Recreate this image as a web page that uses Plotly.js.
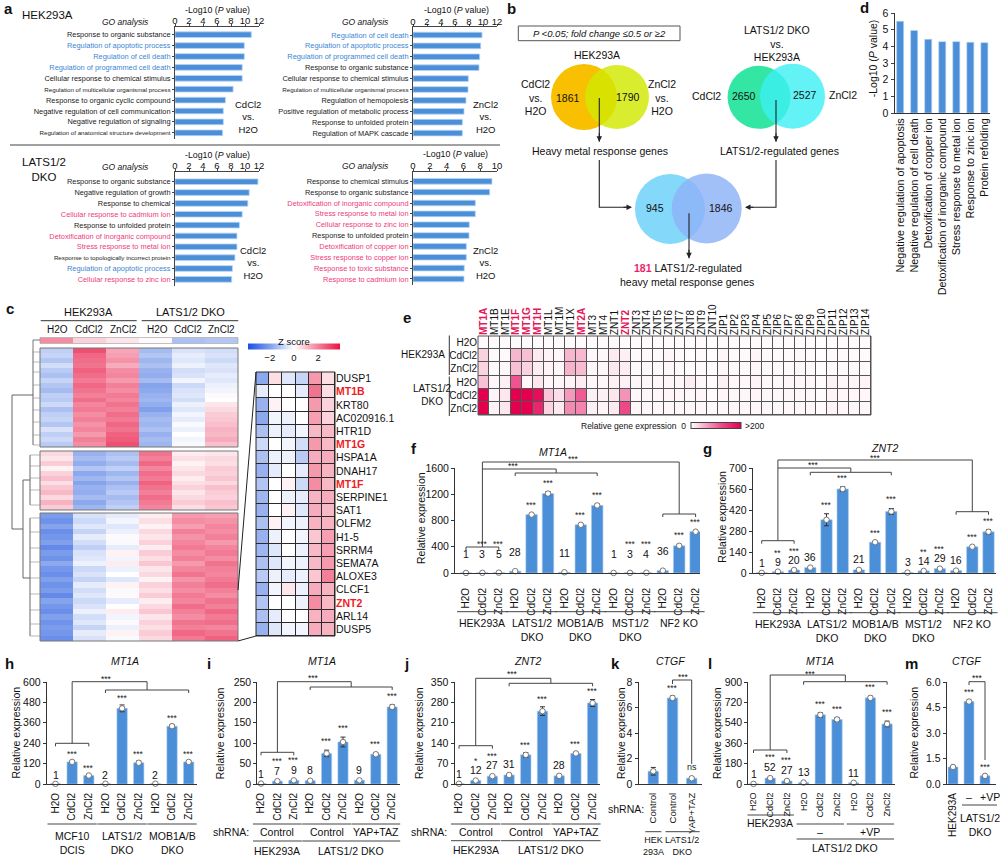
<!DOCTYPE html>
<html><head><meta charset="utf-8">
<script src="https://cdn.plot.ly/plotly-3.0.1.min.js"></script>
<style>html,body{margin:0;padding:0;background:#fff}#chart{width:1000px;height:858px}</style>
</head><body><div id="chart"></div>
<script>
// ================= DATA =================
// panel a : GO analysis
const aHekCdTerms=['Response to organic substance','Regulation of apoptotic process','Regulation of cell death','Regulation of programmed cell death','Cellular response to chemical stimulus','Regulation of multicellular organismal process','Response to organic cyclic compound','Negative regulation of cell communication','Negative regulation of signaling','Regulation of anatomical structure development'];
const aHekCdVals=[10.9,9.9,9.9,9.6,9.6,8.3,7.2,6.9,6.9,6.8];
const aHekCdClass=['other','apoptosis','apoptosis','apoptosis','other','other','other','other','other','other'];
const aHekZnTerms=['Regulation of cell death','Regulation of apoptotic process','Regulation of programmed cell death','Response to organic substance','Cellular response to chemical stimulus','Regulation of multicellular organismal process','Regulation of hemopoiesis','Positive regulation of metabolic process','Response to unfolded protein','Regulation of MAPK cascade'];
const aHekZnVals=[9.86,9.67,9.52,9.43,7.9,7.86,7.57,7.29,7.05,7.05];
const aHekZnClass=['apoptosis','apoptosis','apoptosis','other','other','other','other','other','other','other'];
const aDkoCdTerms=['Response to organic substance','Negative regulation of growth','Response to chemical','Cellular response to cadmium ion','Response to unfolded protein','Detoxification of inorganic compound','Stress response to metal ion','Response to topologically incorrect protein','Regulation of apoptotic process','Cellular response to zinc ion'];
const aDkoCdVals=[11.85,10.6,10.4,9.6,9.2,8.85,8.85,8.56,8.2,8.1];
const aDkoCdClass=['other','other','other','metal','other','metal','metal','other','apoptosis','metal'];
const aDkoZnTerms=['Response to chemical stimulus','Response to organic substance','Detoxification of inorganic compound','Stress response to metal ion','Cellular response to zinc ion','Response to unfolded protein','Detoxification of copper ion','Stress response to copper ion','Response to toxic substance','Response to cadmium ion'];
const aDkoZnVals=[9.4,9.13,7.42,7.42,6.7,6.67,6.35,6.35,6.1,6.07];
const aDkoZnClass=['other','other','metal','metal','metal','other','metal','metal','metal','metal'];

// panel b : Venn counts
const vennHekCd=1861, vennHekZn=1790, vennDkoCd=2650, vennDkoZn=2527, vennMetal=945, vennLats=1846, vennOverlap=181;

// panel d
const dTerms=['Negative regulation of apoptosis','Negative regulation of cell death','Detoxification of copper ion','Detoxification of inorganic compound','Stress response to metal ion','Response to zinc ion','Protein refolding'];
const dVals=[5.5,4.95,4.42,4.28,4.28,4.24,4.22];

// panel c : heatmap (z score) columns
const cCols=['H2O','CdCl2','ZnCl2','H2O','CdCl2','ZnCl2'];
const cTopBar=[[1.8,0.7,0.4,0.1,-1.3,-1.2]];
const cBlock1=[
[-1.0,2.8,1.4,-1.4,-0.6,-0.7],[-0.9,2.4,1.5,-1.2,-0.4,-0.6],[-1.2,2.3,1.7,-1.5,-0.5,-0.8],[-0.7,2.2,1.3,-1.3,-0.3,-0.5],
[-1.1,2.5,1.8,-1.6,-0.7,-0.6],[-1.3,2.3,1.9,-1.7,-0.6,-0.4],[-0.9,2.1,1.6,-1.4,-0.2,-0.5],[-1.2,2.4,2.0,-1.9,-0.8,-0.3],
[-1.4,2.2,1.8,-1.8,-0.6,-0.2],[-1.0,2.0,2.1,-1.6,-0.5,0.1],[-1.1,2.3,1.9,-1.5,-0.7,0.0],[-0.8,1.9,2.2,-1.7,-0.3,0.4],
[-1.3,2.1,2.0,-2.0,-0.5,0.6],[-1.0,1.8,2.3,-1.6,-0.2,0.8],[-0.9,2.0,2.1,-1.4,-0.4,0.9],[-1.2,1.7,2.4,-1.5,-0.1,1.0],
[-0.6,1.9,2.2,-1.3,-0.3,1.2],[-1.0,1.6,2.5,-1.6,0.0,1.1],[-0.8,2.0,2.6,-1.4,-0.2,1.3],[-1.1,1.8,2.8,-1.5,-0.1,1.0]];
const cBlock2=[
[0.6,-1.6,-1.3,2.2,0.3,0.4],[0.4,-1.4,-1.1,2.0,0.5,0.6],[0.8,-1.7,-1.4,2.4,0.2,0.5],[0.2,-1.2,-1.0,1.9,0.4,0.8],
[0.7,-1.8,-1.5,2.3,0.6,0.7],[1.0,-1.5,-1.2,2.1,0.3,0.9],[0.5,-1.9,-1.6,2.5,0.5,0.6],[0.9,-1.6,-1.3,2.2,0.7,1.0],
[1.1,-1.7,-1.1,2.0,0.4,0.8],[0.6,-1.4,-1.4,2.3,0.6,0.7],[1.2,-1.8,-1.2,2.1,0.8,1.0],[0.8,-1.5,-1.0,1.9,0.5,0.9]];
const cBlock3=[
[-2.1,-0.6,-0.4,0.3,1.6,1.5],[-2.3,-0.8,-0.2,0.5,1.8,1.7],[-1.9,-0.5,-0.5,0.2,1.5,1.9],[-2.4,-0.9,-0.3,0.6,2.0,1.8],
[-2.2,-0.4,0.1,0.4,1.7,2.0],[-2.0,-0.7,-0.1,0.7,1.9,1.6],[-2.5,-1.0,-0.4,0.3,2.1,1.9],[-2.1,-0.6,0.2,0.8,1.8,2.1],
[-2.3,-0.5,-0.2,0.5,2.0,1.8],[-1.8,-0.3,0.3,0.9,1.6,2.2],[-2.2,-0.8,-0.3,0.4,1.9,2.0],[-2.4,-0.6,0.0,0.6,2.2,1.9],
[-2.0,-0.9,-0.5,0.2,1.7,2.1],[-2.3,-0.4,0.2,0.7,2.0,2.3],[-2.1,-0.7,-0.1,0.5,1.8,2.0],[-2.5,-0.5,0.1,0.8,2.1,1.8],
[-1.9,-0.8,-0.4,0.3,1.9,2.2],[-2.2,-0.6,0.0,0.6,2.3,2.0],[-2.4,-0.3,0.3,0.9,2.0,2.4],[-2.0,-0.7,-0.2,0.4,1.8,2.1],
[-2.3,-0.5,0.1,0.7,2.2,2.3],[-2.1,-0.9,-0.3,0.5,2.0,1.9],[-2.2,-0.4,0.2,0.8,2.4,2.2],[-2.4,-0.6,-0.1,0.6,2.1,2.5]];
const cZoomGenes=['DUSP1','MT1B','KRT80','AC020916.1','HTR1D','MT1G','HSPA1A','DNAH17','MT1F','SERPINE1','SAT1','OLFM2','H1-5','SRRM4','SEMA7A','ALOXE3','CLCF1','ZNT2','ARL14','DUSP5'];
const cZoomHighlight=['MT1B','MT1G','MT1F','ZNT2'];
const cZoomZ=[
[-1.8,0.5,-0.5,-0.9,1.6,0.5],[-0.4,0.0,0.0,-0.4,2.2,0.5],[-1.6,0.2,0.0,0.0,1.6,0.7],[-1.8,-0.2,-0.3,0.0,1.5,0.7],
[-1.3,-0.3,-0.4,-0.2,1.1,1.1],[-0.8,0.0,-0.2,-0.7,1.6,1.1],[-1.3,-0.3,-0.3,-1.1,1.3,1.3],[-1.6,-0.4,0.0,-0.4,1.6,1.2],
[-1.2,0.0,0.2,-0.8,1.8,1.1],[-1.5,0.0,-0.3,-0.4,1.2,1.3],[-1.6,0.0,0.2,-0.5,1.3,1.1],[-1.3,0.2,-0.2,-0.3,1.2,1.2],
[-1.6,-0.3,0.0,-0.2,0.9,1.5],[-1.5,-0.5,0.0,-0.3,1.1,1.5],[-1.3,-0.5,-0.2,-0.3,1.1,1.6],[-1.1,-0.3,-0.4,-0.3,0.9,2.0],
[-1.6,-0.2,0.4,-0.3,1.3,1.2],[-1.2,0.0,0.0,-0.3,1.8,1.1],[-1.3,-0.4,0.0,0.0,1.2,1.3],[-1.6,-0.5,-0.2,-0.2,1.3,1.2]];

// panel e : relative gene expression
const eGenes=['MT1A','MT1B','MT1E','MT1F','MT1G','MT1H','MT1L','MT1M','MT1X','MT2A','MT3','MT4','ZNT1','ZNT2','ZNT3','ZNT4','ZNT5','ZNT6','ZNT7','ZNT8','ZNT9','ZNT10','ZIP1','ZIP2','ZIP3','ZIP4','ZIP5','ZIP6','ZIP7','ZIP8','ZIP9','ZIP10','ZIP11','ZIP12','ZIP13','ZIP14'];
const eHighlight=['MT1A','MT1F','MT1G','MT1H','MT2A','ZNT2'];
const eRows=['H2O','CdCl2','ZnCl2','H2O','CdCl2','ZnCl2'];
const eHekH2O=[4,3,3,4,3,3,3,3,3,4,3,3,4,3,3,3,3,3,3,2,3,1,4,3,3,3,3,3,3,3,3,1,3,3,3,3];
const eHekCd=[30,4,4,48,42,14,8,6,48,46,5,5,14,10,4,4,4,5,4,2,4,1,5,4,4,5,4,4,4,5,4,1,4,4,4,4];
const eHekZn=[28,3,5,42,30,12,8,6,50,44,5,5,15,12,4,4,4,5,4,2,4,1,5,4,4,5,4,4,4,5,4,2,4,4,4,4];
const eDkoH2O=[40,6,10,115,5,16,6,5,8,12,5,6,9,9,5,5,6,5,6,12,5,3,10,5,5,7,5,5,5,6,5,3,9,6,7,7];
const eDkoCd=[200,8,16,200,200,185,38,22,68,110,10,10,16,72,6,5,6,6,6,5,6,3,6,5,5,6,5,5,5,6,5,3,8,6,6,6];
const eDkoZn=[200,8,16,200,200,160,28,14,78,82,10,8,14,125,6,5,6,6,6,5,6,3,6,5,5,6,5,5,5,6,5,3,8,6,6,6];

// bar panels
const treat=['H2O','CdCl2','ZnCl2'];
const fGroups=['HEK293A','LATS1/2<br>DKO','MOB1A/B<br>DKO','MST1/2<br>DKO','NF2 KO'];
const fVals=[1,3,5,28,890,1210,11,735,1030,1,3,4,36,415,630];
const fErr=[0,0,0,6,15,30,3,15,20,0,0,0,5,20,15];
const fNums=['1','3','5','28','','','11','','','1','3','4','36','',''];
const fSig=['','***','***','','***','***','','***','***','','***','***','','***','***'];
const gVals=[1,9,20,36,355,560,21,205,410,3,14,29,16,175,275];
const gErr=[0,1,2,4,40,15,3,5,20,1,2,3,2,8,15];
const gNums=['1','9','20','36','','','21','','','3','14','29','16','',''];
const gSig=['','**','***','','***','***','','***','***','','**','***','','***','***'];
const hGroups=['MCF10<br>DCIS','LATS1/2<br>DKO','MOB1A/B<br>DKO'];
const hVals=[1,130,50,2,445,125,2,340,130];
const hErr=[0,5,5,0,20,10,0,10,8];
const hNums=['1','','','2','','','2','',''];
const hSig=['','***','***','','***','***','','***','***'];
const shGroups=['Control','Control','YAP+TAZ'];
const iVals=[1,7,9,8,75,103,9,73,189];
const iErr=[0,1,1,1,8,12,1,3,5];
const iNums=['1','7','9','8','','','9','',''];
const iSig=['','***','***','','***','***','','***','***'];
const jVals=[1,12,27,31,100,250,28,105,278];
const jErr=[0,3,3,3,8,15,3,4,12];
const jNums=['1','12','27','31','','','28','',''];
const jSig=['','*','***','','***','***','','***','***'];
const kTicks=['Control','Control','YAP+TAZ'];
const kVals=[1,6.75,0.45];
const kErr=[0.3,0.15,0.1];
const kSig=['','***','ns'];
const lVals=[1,52,27,13,610,570,11,760,530];
const lErr=[0,6,4,2,20,15,2,15,25];
const lNums=['1','52','27','13','','','11','',''];
const lSig=['','***','***','','***','***','','***','***'];
const mTicks=['HEK293A','',''];
const mVals=[1.0,4.85,0.48];
const mErr=[0.03,0.08,0.05];
const mSig=['','***','***'];

// ================= DRAWING =================
const FONT='Arial, "Liberation Sans", Helvetica, sans-serif';
const W=1000,H=858;
const X=p=>p/W, Y=p=>1-p/H;
const BLUE='#4a8fd8';
const layout={width:W,height:H,margin:{l:0,r:0,t:0,b:0,pad:0},paper_bgcolor:'#fff',plot_bgcolor:'rgba(0,0,0,0)',showlegend:false,
  font:{family:FONT,size:10,color:'#111'},annotations:[],shapes:[]};
const traces=[];
const ann=layout.annotations, shp=layout.shapes;
function T(x,y,text,size,o){o=o||{};const c=o.color||'#111';const r=Object.assign({},o);delete r.color;
  ann.push(Object.assign({xref:'paper',yref:'paper',x:X(x),y:Y(y),text:text,showarrow:false,xanchor:'center',yanchor:'middle',font:{family:FONT,size:size||10,color:c}},r));}
function L(x0,y0,x1,y1,c,w){shp.push({type:'line',xref:'paper',yref:'paper',x0:X(x0),y0:Y(y0),x1:X(x1),y1:Y(y1),line:{color:c||'#333',width:w||1}});}
function PL(pts,c,w){shp.push({type:'path',xref:'paper',yref:'paper',path:'M'+pts.map(p=>X(p[0])+','+Y(p[1])).join('L'),line:{color:c||'#333',width:w||1}});}
function RECT(x0,y0,x1,y1,fill,lc,lw,layer){shp.push({type:'rect',xref:'paper',yref:'paper',x0:X(x0),y0:Y(y1),x1:X(x1),y1:Y(y0),fillcolor:fill||'rgba(0,0,0,0)',line:{color:lc||'rgba(0,0,0,0)',width:lw||0},layer:layer||'above'});}
function CIRC(cx,cy,r,fill,op){shp.push({type:'circle',xref:'paper',yref:'paper',x0:X(cx-r),x1:X(cx+r),y0:Y(cy+r),y1:Y(cy-r),fillcolor:fill,opacity:op,line:{width:0},layer:'below'});}
function ARROW(hx,hy,dx,dy){ann.push({xref:'paper',yref:'paper',x:X(hx),y:Y(hy),ax:dx,ay:dy,text:'',showarrow:true,arrowhead:2,arrowsize:1,arrowwidth:1.1,arrowcolor:'#222'});}
const LET=(x,y,t)=>T(x,y,'<b>'+t+'</b>',15,{xanchor:'left'});

// ---------- panel a ----------
const clsColor={other:'#1a1a1a',apoptosis:'#3a86d6',metal:'#ee3a7c'};
function goPanel(n,terms,vals,cls,xl,xr,yFirst,step,padTop,xmax){
  const tt=terms.map((t,i)=>'<span style="color:'+clsColor[cls[i]]+(t.length>42?';font-size:6.2px':'')+'">'+t+'</span>');
  const m=terms.length;
  const yTop=yFirst-padTop*step, yBot=yFirst+(m-1+0.6)*step;
  layout['xaxis'+n]={domain:[X(xl),X(xr)],range:[0,xmax],dtick:2,side:'top',anchor:'y'+n,showline:true,linecolor:'#444',ticks:'outside',ticklen:2,tickcolor:'#444',ticklabelstandoff:-4,tickfont:{size:9.5},showgrid:false,zeroline:false,fixedrange:true};
  layout['yaxis'+n]={domain:[Y(yBot),Y(yTop)],range:[m-1+0.6,-padTop],anchor:'x'+n,showline:true,linecolor:'#444',ticks:'outside',ticklen:2,tickcolor:'#444',tickvals:terms.map((_,i)=>i),ticktext:tt,tickfont:{size:7.4},showgrid:false,zeroline:false,fixedrange:true};
  traces.push({type:'bar',orientation:'h',x:vals,y:terms.map((_,i)=>i),xaxis:'x'+n,yaxis:'y'+n,width:0.52,marker:{color:BLUE,line:{color:'#b8d4f2',width:0.8}},hoverinfo:'skip'});
}
goPanel(1,aHekCdTerms,aHekCdVals,aHekCdClass,175,259,34.7,10.9,0.7,12);
goPanel(2,aHekZnTerms,aHekZnVals,aHekZnClass,413,497,35,10.9,0.7,12);
goPanel(3,aDkoCdTerms,aDkoCdVals,aDkoCdClass,175,259,181.7,10.85,0.9,12);
goPanel(4,aDkoZnTerms,aDkoZnVals,aDkoZnClass,413,497,181.3,10.85,0.9,10);
LET(2,8,'a');
T(20,15,'HEK293A',11.5,{xanchor:'left'});
T(125,22,'<i>GO analysis</i>',8.5); T(365,22,'<i>GO analysis</i>',8.5);
T(217,10,'-Log10 (<i>P</i> value)',8.8); T(456,10,'-Log10 (<i>P</i> value)',8.8);
T(248,117,'CdCl2<br>vs.<br>H2O',9.5); T(485,117,'ZnCl2<br>vs.<br>H2O',9.5);
L(10,145,500,145,'#444',1.2);
T(20,169,'LATS1/2<br>DKO',11.5,{xanchor:'left'});
T(125,167,'<i>GO analysis</i>',8.5); T(365,166,'<i>GO analysis</i>',8.5);
T(217,155,'-Log10 (<i>P</i> value)',8.8); T(455,154,'-Log10 (<i>P</i> value)',8.8);
T(253,263,'CdCl2<br>vs.<br>H2O',9.5); T(485,263,'ZnCl2<br>vs.<br>H2O',9.5);

// ---------- panel b ----------
LET(505,8,'b');
RECT(518.3,26,680,40.7,'#fff','#555',1);
T(599,33.5,'<i>P &lt;0.05; fold change ≤0.5 or ≥2</i>',9.5);
T(597,55,'HEK293A',10.5);
CIRC(584,97,33,'#f8c000',1); CIRC(617,97,32,'#d2e800',0.82);
T(535,97,'CdCl2<br>vs.<br>H2O',10.5); T(662,97,'ZnCl2<br>vs.<br>H2O',10.5);
T(568.3,98,String(vennHekCd),10.5); T(628.3,97,String(vennHekZn),10.5);
T(776.7,43,'LATS1/2 DKO<br>vs.<br>HEK293A',10.5);
CIRC(759,97.3,31.5,'#34e6a4',1); CIRC(792.5,96.2,32.5,'#3cf0f4',0.8);
T(706.7,95.7,'CdCl2',10.5); T(843.3,94.7,'ZnCl2',10.5);
T(744.3,96,String(vennDkoCd),10.5); T(805,95,String(vennDkoZn),10.5);
L(599.3,98,599.3,141.7,'#222',1.1); ARROW(599.3,141.7,0,-10);
L(776,100,776,141.7,'#222',1.1); ARROW(776,141.7,0,-10);
T(600,151.3,'Heavy metal response genes',10.5); T(779,151,'LATS1/2-regulated genes',10.5);
CIRC(670,209,35,'#84d8fa',1); CIRC(706.7,208.5,35,'#8eb2f6',0.82);
T(655,208.3,String(vennMetal),10.5); T(721,207.7,String(vennLats),10.5);
PL([[599.3,160],[599.3,207.3],[630,207.3]],'#222',1.1); ARROW(632,207.3,-10,0);
PL([[776,160],[776,207.3],[747,207.3]],'#222',1.1); ARROW(745,207.3,10,0);
L(689,213.3,689,258.3,'#222',1.1); ARROW(689,258.3,0,-10);
T(688.3,268.3,'<b><span style="color:#ee1f6a">'+vennOverlap+'</span></b> LATS1/2-regulated',10.5);
T(687,281.7,'heavy metal response genes',10.5);

// ---------- panel d ----------
LET(858,7,'d');
layout.xaxis5={domain:[X(894.5),X(990)],range:[-0.4,6.4],anchor:'y5',showline:true,linecolor:'#333',ticks:'',tickvals:dTerms.map((_,i)=>i),ticktext:dTerms,tickangle:-90,tickfont:{size:10.8},showgrid:false,zeroline:false,fixedrange:true};
layout.yaxis5={domain:[Y(113),Y(13)],range:[0,6],dtick:1,anchor:'x5',showline:true,linecolor:'#333',ticks:'outside',ticklen:3,tickfont:{size:10.5},showgrid:false,zeroline:false,fixedrange:true};
traces.push({type:'bar',x:dTerms.map((_,i)=>i),y:dVals,xaxis:'x5',yaxis:'y5',width:0.5,marker:{color:BLUE,line:{color:'#b8d4f2',width:0.6}},hoverinfo:'skip'});
T(873.3,58,'-Log10 (<i>P</i> value)',10.5,{textangle:-90});

// ---------- panel c ----------
const zScale=[[0,'#1b4fe6'],[0.25,'#86a4ec'],[0.5,'#ffffff'],[0.75,'#f3869e'],[1,'#e8143f']];
layout.coloraxis={cmin:-3.8,cmax:3.8,colorscale:zScale,colorbar:{orientation:'h',x:X(294),xanchor:'center',y:Y(351.5),yanchor:'middle',len:92,lenmode:'pixels',thickness:6,thicknessmode:'pixels',tickvals:[-2,0,2],ticks:'',tickfont:{size:9.5,family:FONT},outlinewidth:0,xpad:0,ypad:0}};
function cHeat(n,z,xl,xr,yt,yb,gap){
  layout['xaxis'+n]={domain:[X(xl),X(xr)],range:[-0.5,z[0].length-0.5],anchor:'y'+n,visible:false,fixedrange:true};
  layout['yaxis'+n]={domain:[Y(yb),Y(yt)],range:[z.length-0.5,-0.5],anchor:'x'+n,visible:false,fixedrange:true};
  traces.push({type:'heatmap',z:z,xaxis:'x'+n,yaxis:'y'+n,coloraxis:'coloraxis',xgap:gap||0,ygap:gap||0,hoverinfo:'skip'});
}
cHeat(6,cTopBar,40,238,337.5,343.5);
cHeat(7,cBlock1,40,238,348,447);
cHeat(8,cBlock2,40,238,451,510);
cHeat(9,cBlock3,40,238,513,641);
RECT(40,337.5,238,343.5,null,'#999',0.6);
RECT(40,348,238,447,null,'#777',1); RECT(40,451,238,510,null,'#777',1); RECT(40,513,238,641,null,'#777',1);
// zoom heatmap
RECT(256,372,335,636,'#2a2a2a',null,0,'below');
layout.xaxis10={domain:[X(256),X(335)],range:[-0.5,5.5],anchor:'y10',visible:false,fixedrange:true};
layout.yaxis10={domain:[Y(636),Y(372)],range:[cZoomGenes.length-0.5,-0.5],anchor:'x10',side:'right',showline:false,ticks:'',tickvals:cZoomGenes.map((_,i)=>i),
  ticktext:cZoomGenes.map(g=>cZoomHighlight.includes(g)?'<b><span style="color:#ee1c25">'+g+'</span></b>':g),tickfont:{size:10.5},showgrid:false,zeroline:false,fixedrange:true};
traces.push({type:'heatmap',z:cZoomZ,xaxis:'x10',yaxis:'y10',coloraxis:'coloraxis',xgap:1,ygap:1,hoverinfo:'skip'});
RECT(256,372,335,636,null,'#2a2a2a',1);
LET(4,308,'c');
T(88,312,'HEK293A',11); L(40.7,320.7,136.7,320.7,'#333',1);
T(190,312,'LATS1/2 DKO',11); L(141.7,320.7,238.3,320.7,'#333',1);
const cColX=[57.3,89.3,123.3,157.7,188.3,221.7];
cCols.forEach((c,i)=>T(cColX[i],329.3,c,10));
T(294,342,'Z score',9.5);
L(238,590,256,372,'#222',1); L(238,641,256,636,'#222',1);
// dendrogram
const dg='#555';
L(12,395,12,529,dg,0.9); L(12,395,33,395,dg,0.9); L(12,529,23,529,dg,0.9);
L(23,480,23,578,dg,0.9); L(23,480,30,480,dg,0.9); L(23,578,30,578,dg,0.9);
L(33,350,33,445,dg,0.9); L(30,455,30,505,dg,0.9); L(30,518,30,636,dg,0.9);
[352,362,372,385,398,410,422,435,445].forEach(y=>L(33,y,40,y,'#888',0.6));
[455,466,478,490,505].forEach(y=>L(30,y,40,y,'#888',0.6));
[518,532,548,562,578,594,610,624,636].forEach(y=>L(30,y,40,y,'#888',0.6));
L(33,340,40,340,dg,0.8); L(33,340,33,350,dg,0.8);

// ---------- panel e ----------
const eScale=[[0,'#ffffff'],[0.25,'#f7b3cc'],[0.6,'#ee4d8c'],[1,'#e4004f']];
layout.coloraxis2={cmin:0,cmax:200,colorscale:eScale,colorbar:{orientation:'h',x:X(716),xanchor:'center',y:Y(426),yanchor:'middle',len:50,lenmode:'pixels',thickness:6,thicknessmode:'pixels',showticklabels:false,ticks:'',outlinewidth:1,outlinecolor:'#444',xpad:0,ypad:0}};
RECT(478,336,871,415,'#555',null,0,'below');
layout.xaxis11={domain:[X(478),X(871)],range:[-0.5,eGenes.length-0.5],anchor:'y11',side:'top',showline:false,ticks:'',tickangle:-90,tickvals:eGenes.map((_,i)=>i),
  ticktext:eGenes.map(g=>eHighlight.includes(g)?'<b><span style="color:#e3175a">'+g+'</span></b>':g),tickfont:{size:10},showgrid:false,zeroline:false,fixedrange:true};
layout.yaxis11={domain:[Y(415),Y(336)],range:[5.5,-0.5],anchor:'x11',showline:false,ticks:'',tickvals:[0,1,2,3,4,5],ticktext:eRows,tickfont:{size:10},showgrid:false,zeroline:false,fixedrange:true};
traces.push({type:'heatmap',z:[eHekH2O,eHekCd,eHekZn,eDkoH2O,eDkoCd,eDkoZn],xaxis:'x11',yaxis:'y11',coloraxis:'coloraxis2',xgap:1,ygap:1,hoverinfo:'skip'});
RECT(478,336,871,415,null,'#555',1);
LET(401,317,'e');
T(447,355,'HEK293A',10,{xanchor:'right'});
T(432,394.5,'LATS1/2<br>DKO',10);
L(449.3,335.5,449.3,375,'#333',1); L(449.3,376.5,449.3,416,'#333',1);
T(688,426,'Relative gene expression  0',8.5,{xanchor:'right'});
T(743,426,'&gt;200',8.5,{xanchor:'left'});

// ---------- bar panels ----------
function barPanel(n,cfg){
  const k=cfg.vals.map((_,i)=>i);
  const r0=-(cfg.first-cfg.left)/cfg.step, r1=(cfg.right-cfg.first)/cfg.step;
  layout['xaxis'+n]={domain:[X(cfg.left),X(cfg.right)],range:[r0,r1],anchor:'y'+n,showline:true,linecolor:'#333',ticks:'outside',ticklen:cfg.tl||4,tickcolor:'rgba(0,0,0,0)',tickvals:k,ticktext:cfg.ticks,tickangle:-90,tickfont:{size:cfg.tfs||10},showgrid:false,zeroline:false,fixedrange:true};
  layout['yaxis'+n]={domain:[Y(cfg.y0),Y(cfg.ytop)],range:[0,cfg.ymax],dtick:cfg.dtick,tickformat:cfg.fmt||'',anchor:'x'+n,showline:true,linecolor:'#333',ticks:'outside',ticklen:3,tickcolor:'#333',tickfont:{size:10.5},showgrid:false,zeroline:false,fixedrange:true};
  traces.push({type:'bar',x:k,y:cfg.vals,xaxis:'x'+n,yaxis:'y'+n,width:cfg.width,marker:{color:BLUE,line:{color:'#a6c8ef',width:0.6}},hoverinfo:'skip'});
  traces.push({type:'scatter',mode:'markers',x:k,y:cfg.vals,xaxis:'x'+n,yaxis:'y'+n,cliponaxis:false,marker:{size:5.5,color:'#fff',line:{color:'#777',width:1}},
    error_y:{type:'data',array:cfg.err,color:'#333',thickness:1,width:2.5},hoverinfo:'skip'});
  k.forEach(i=>{
    const top=cfg.vals[i]+cfg.err[i];
    const hasNum=cfg.nums&&cfg.nums[i];
    if(hasNum) ann.push({xref:'x'+n,yref:'y'+n,x:i,y:top,yshift:cfg.ns,text:cfg.nums[i],showarrow:false,yanchor:'middle',font:{family:FONT,size:10.5,color:'#111'}});
    const s=cfg.sig[i];
    if(s){const sh=hasNum?cfg.ns+cfg.ss2:cfg.ss; ann.push({xref:'x'+n,yref:'y'+n,x:i,y:top,yshift:(s==='ns'?sh+2:sh),text:s,showarrow:false,yanchor:'middle',font:{family:FONT,size:s==='ns'?9:8.5,color:'#222'}});}
  });
  return i=>cfg.first+i*cfg.step;
}
function grpBracket(px,a,b,y,t){PL([[px(a),y+(t||3)],[px(a),y],[px(b),y],[px(b),y+(t||3)]],'#444',1);}
const tr3=g=>[].concat(...Array(g).fill(treat));

// f
LET(409,448,'f'); T(553,452,'<i>MT1A</i>',10.5);
const pf=barPanel(12,{vals:fVals,err:fErr,nums:fNums,sig:fSig,ticks:tr3(5),left:455,first:466,step:16.4,right:700,y0:573,ytop:468,ymax:1600,dtick:400,width:0.7,tl:10,ns:19,ss:9,ss2:10});
T(421,518,'Relative expression',10.5,{textangle:-90});
fGroups.forEach((g,i)=>{L(pf(3*i)-9,611.7,pf(3*i+2)+9,611.7,'#444',1);T(pf(3*i+1),615,g,10.5,{yanchor:'top'});});
grpBracket(pf,0,2,547); L(pf(1),547,pf(1),462,'#444'); L(pf(1),462,pf(13),462,'#444');
grpBracket(pf,12,14,514); L(pf(13),514,pf(13),462,'#444');
{const mid=(pf(3)+pf(8))/2; L(pf(1),469,mid,469,'#444'); grpBracket(pf,3,8,473); L(mid,473,mid,469,'#444');}
T(513,466,'***',8.5); T(573,459,'***',8.5);

// g
LET(701,448,'g'); T(884,448,'<i>ZNT2</i>',10.5);
const pg=barPanel(13,{vals:gVals,err:gErr,nums:gNums,sig:gSig,ticks:tr3(5),left:752.7,first:761.7,step:16.2,right:996,y0:573,ytop:468,ymax:700,dtick:140,width:0.7,tl:10,ns:10,ss:9,ss2:9});
T(721.7,517,'Relative expression',10.5,{textangle:-90});
fGroups.forEach((g,i)=>{L(pg(3*i)-9,612.7,pg(3*i+2)+9,612.7,'#444',1);T(pg(3*i+1),616,g,10.5,{yanchor:'top'});});
grpBracket(pg,0,2,540.7); L(pg(1),540.7,pg(1),460,'#444'); L(pg(1),460,pg(13),460,'#444');
grpBracket(pg,12,14,511.7); L(pg(13),511.7,pg(13),460,'#444');
{const mid=(pg(3)+pg(8))/2; L(pg(1),468,mid,468,'#444'); grpBracket(pg,3,8,472.3); L(mid,472.3,mid,468,'#444');}
T(813,465,'***',8.5); T(875,457.5,'***',8.5);

// h
LET(3,663,'h'); T(125,661,'<i>MT1A</i>',10.5);
const ph=barPanel(14,{vals:hVals,err:hErr,nums:hNums,sig:hSig,ticks:tr3(3),left:46.7,first:55.5,step:16.65,right:197,y0:784,ytop:682,ymax:600,dtick:120,width:0.62,tl:4,ns:9,ss:7,ss2:10});
T(15.5,733,'Relative expression',10.5,{textangle:-90});
hGroups.forEach((g,i)=>{L(ph(3*i)-8,824,ph(3*i+2)+8,824,'#444',1);T(ph(3*i+1),828,g,10.5,{yanchor:'top'});});
grpBracket(ph,0,2,743.3); L(ph(1),743.3,ph(1),681.7,'#444');
{const mid=(ph(3)+ph(8))/2; L(ph(1),681.7,mid,681.7,'#444'); grpBracket(ph,3,8,690); L(mid,690,mid,681.7,'#444');}
T(106.7,679,'***',8.5);

// i
LET(205,663,'i'); T(322,661,'<i>MT1A</i>',10.5);
const pi=barPanel(15,{vals:iVals,err:iErr,nums:iNums,sig:iSig,ticks:tr3(3),left:257.3,first:261,step:16.4,right:400,y0:784,ytop:682,ymax:250,dtick:50,width:0.62,tl:4,ns:10,ss:9,ss2:10});
T(220.3,733,'Relative expression',10.5,{textangle:-90});
shGroups.forEach((g,i)=>{L(pi(3*i)-8,824,pi(3*i+2)+8,824,'#444',1);T(pi(3*i+1),832.3,g,10.5);});
T(251,832.3,'shRNA:',10.5,{xanchor:'right'});
L(pi(0)-8,841,pi(2)+8,841,'#444',1); L(pi(3)-8,841,pi(8)+8,841,'#444',1);
T(pi(1),851,'HEK293A',10.5); T((pi(3)+pi(8))/2,851,'LATS1/2 DKO',10.5);
grpBracket(pi,0,2,752.3); L(pi(1),752.3,pi(1),681.7,'#444');
{const mid=(pi(3)+pi(8))/2; L(pi(1),681.7,mid,681.7,'#444'); grpBracket(pi,3,8,687); L(mid,687,mid,681.7,'#444');}
T(313,677.5,'***',8.5);

// j
LET(402,663,'j'); T(527,661,'<i>ZNT2</i>',10.5);
const pj=barPanel(16,{vals:jVals,err:jErr,nums:jNums,sig:jSig,ticks:tr3(3),left:454.5,first:459,step:16.7,right:600,y0:784,ytop:682,ymax:350,dtick:70,width:0.62,tl:4,ns:10,ss:8,ss2:9});
T(419,733,'Relative expression',10.5,{textangle:-90});
shGroups.forEach((g,i)=>{L(pj(3*i)-8,824,pj(3*i+2)+8,824,'#444',1);T(pj(3*i+1),832,g,10.5);});
T(449,832,'shRNA:',10.5,{xanchor:'right'});
L(pj(0)-8,840.7,pj(2)+8,840.7,'#444',1); L(pj(3)-8,840.7,pj(8)+8,840.7,'#444',1);
T(pj(1),850,'HEK293A',10.5); T((pj(3)+pj(8))/2,850,'LATS1/2 DKO',10.5);
grpBracket(pj,0,2,745.7); L(pj(1),745.7,pj(1),678.3,'#444');
{const mid=(pj(3)+pj(8))/2; L(pj(1),678.3,mid,678.3,'#444'); grpBracket(pj,3,8,683.3); L(mid,683.3,mid,678.3,'#444');}
T(512.3,674,'***',8.5);

// k
LET(609,663,'k'); T(670,661,'<i>CTGF</i>',10.5);
const pk=barPanel(17,{vals:kVals,err:kErr,sig:kSig,ticks:kTicks,left:638.5,first:653.3,step:19.2,right:702,y0:784,ytop:682,ymax:8,dtick:2,width:0.55,tl:4,tfs:9.5,ns:9,ss:8,ss2:9});
T(621,733,'Relative expression',10.5,{textangle:-90});
T(646,809,'shRNA:',10.5,{xanchor:'right'});
L(pk(0)-8,831.7,pk(0)+8,831.7,'#444',1); L(pk(1)-7,831.7,pk(2)+8,831.7,'#444',1);
T(pk(0),833,'HEK<br>293A',9,{yanchor:'top'}); T((pk(1)+pk(2))/2,833,'LATS1/2<br>DKO',9,{yanchor:'top'});
PL([[pk(1),684],[pk(1),680],[pk(2),680],[pk(2),764]],'#444',1);
T(683,677,'***',8.5);

// l
LET(706,663,'l'); T(820,661,'<i>MT1A</i>',10.5);
const pl=barPanel(18,{vals:lVals,err:lErr,nums:lNums,sig:lSig,ticks:tr3(3),left:748.3,first:753.5,step:16.7,right:895,y0:784,ytop:682,ymax:900,dtick:180,width:0.62,tl:4,tfs:9,ns:10,ss:9,ss2:10});
T(717,733,'Relative expression',10.5,{textangle:-90});
L(pl(0)-6,815,pl(2)+7,815,'#444',1); T(pl(1),823,'HEK293A',10.5);
L(pl(3)-7,824,pl(5)+7,824,'#444',1); L(pl(6)-7,824,pl(8)+7,824,'#444',1);
T(pl(4),831.7,'–',10.5); T(pl(7),831.7,'+VP',10.5);
L(pl(3)-7,839,pl(8)+7,839,'#444',1); T((pl(3)+pl(8))/2,848,'LATS1/2 DKO',10.5);
grpBracket(pl,0,2,750); L(pl(1),750,pl(1),675,'#444');
{const mid=(pl(3)+pl(8))/2; L(pl(1),675,mid,675,'#444'); grpBracket(pl,3,8,681.7); L(mid,681.7,mid,675,'#444');}
T(810,673.5,'***',8.5);

// m
LET(903,663,'m'); T(966,661,'<i>CTGF</i>',10.5);
const pm=barPanel(19,{vals:mVals,err:mErr,sig:mSig,ticks:mTicks,left:946.7,first:953,step:16,right:996,y0:784,ytop:682,ymax:6,dtick:1.5,fmt:'.1f',width:0.62,tl:4,ns:9,ss:8,ss2:9});
T(913.5,733,'Relative expression',10.5,{textangle:-90});
T(pm(1),796.7,'–',10.5); T(pm(2)+5,796.7,'+VP',10.5);
L(pm(1)-7,805,pm(2)+12,805,'#444',1);
T(980,810,'LATS1/2<br>DKO',10.5,{yanchor:'top'});
PL([[pm(1),685],[pm(1),681.7],[pm(2),681.7],[pm(2),760]],'#444',1);
T(977,678,'***',8.5);

Plotly.newPlot('chart',traces,layout,{displayModeBar:false,staticPlot:true});
</script></body></html>
